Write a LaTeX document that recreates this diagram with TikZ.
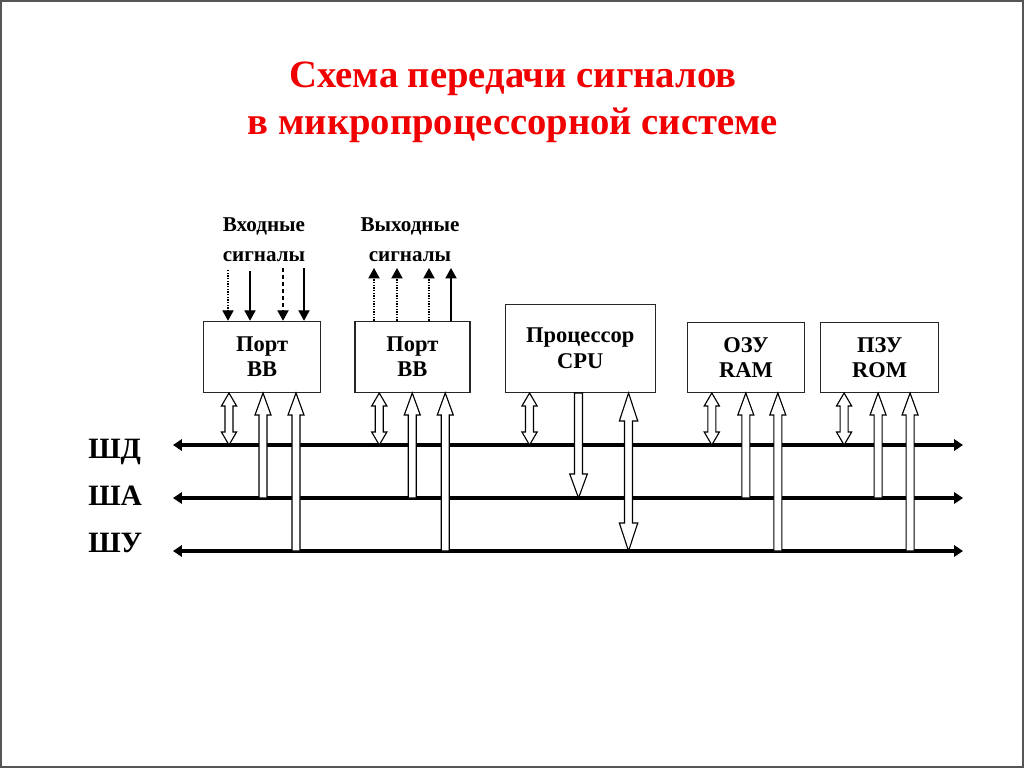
\documentclass[tikz,border=0pt]{standalone}
\usepackage{fontspec}
\setmainfont{Liberation Serif}
\usepackage{tikz}
\usepackage{xcolor}
\usetikzlibrary{arrows.meta,positioning,calc}
\definecolor{TitleRed}{HTML}{F00000}
\definecolor{FrameGray}{HTML}{555555}
\tikzstyle{TitleNode} =[text=TitleRed,align=center,inner sep=0pt,font=\bfseries\fontsize{27.5}{33.4}\selectfont]
\tikzstyle{ModuleBox} =[draw=black!85,line width=0.9pt,fill=white,align=center,inner sep=0pt,font=\bfseries\fontsize{16}{18}\selectfont]
\tikzstyle{BusLabel} =[inner sep=0pt,anchor=base west,font=\bfseries\fontsize{21}{24}\selectfont]
\tikzstyle{SignalLabel} =[inner sep=0pt,align=center,font=\bfseries\fontsize{15}{21.5}\selectfont]
\tikzstyle{BusLine} =[line width=2.2pt,{Triangle[length=2.2mm,width=2.8mm]}-{Triangle[length=2.2mm,width=2.8mm]}]
\tikzstyle{SignalArrow} =[line width=0.9pt,-{Triangle[length=2.6mm,width=2.8mm]}]
\tikzstyle{BusArrow} =[draw=black,line width=0.8pt,fill=white,line join=miter]
\newcommand{\CreateUpArrow}[3]{
    \draw[BusArrow] let \p{box_point}=($(#1.south west)+(#2,0)$),
        \p{bus_point}=(#3)
        in (\x{box_point}-1mm,\y{bus_point}) -- (\x{box_point}-1mm,\y{box_point}-5.5mm) -- (\x{box_point}-2mm,\y{box_point}-5.5mm)
        -- (\x{box_point},\y{box_point}) -- (\x{box_point}+2mm,\y{box_point}-5.5mm) -- (\x{box_point}+1mm,\y{box_point}-5.5mm)
        -- (\x{box_point}+1mm,\y{bus_point}) -- cycle;}
\newcommand{\CreateDownArrow}[3]{
    \draw[BusArrow] let \p{box_point}=($(#1.south west)+(#2,0)$),
        \p{bus_point}=(#3)
        in (\x{box_point}-1mm,\y{box_point}) -- (\x{box_point}-1mm,\y{bus_point}+6mm) -- (\x{box_point}-2.2mm,\y{bus_point}+6mm)
        -- (\x{box_point},\y{bus_point}) -- (\x{box_point}+2.2mm,\y{bus_point}+6mm) -- (\x{box_point}+1mm,\y{bus_point}+6mm)
        -- (\x{box_point}+1mm,\y{box_point}) -- cycle;}
\newcommand{\CreateDoubleArrow}[5]{
    \draw[BusArrow] let \p{box_point}=($(#1.south west)+(#2,0)$),
        \p{bus_point}=(#3)
        in (\x{box_point}-1mm,\y{box_point}-#4) -- (\x{box_point}-#5,\y{box_point}-#4) -- (\x{box_point},\y{box_point})
        -- (\x{box_point}+#5,\y{box_point}-#4) -- (\x{box_point}+1mm,\y{box_point}-#4)
        -- (\x{box_point}+1mm,\y{bus_point}+#4) -- (\x{box_point}+#5,\y{bus_point}+#4) -- (\x{box_point},\y{bus_point})
        -- (\x{box_point}-#5,\y{bus_point}+#4) -- (\x{box_point}-1mm,\y{bus_point}+#4) -- cycle;}

\begin{document}
\begin{tikzpicture}[x=0.25mm,y=-0.25mm]
    \useasboundingbox (0,0) rectangle (1024,768);
    \draw[FrameGray,line width=0.8pt] (1,1) rectangle (1023,767);

    \node[TitleNode](Slide-Title) at (513,102){Схема передачи сигналов\\в микропроцессорной системе};

    \node[ModuleBox,minimum width=29.25mm,minimum height=17.75mm,anchor=south west](Input-Port) at (203,393){Порт\\ВВ};
    \node[ModuleBox,minimum width=28.75mm,minimum height=17.75mm,right=8.25mm of Input-Port.south east,anchor=south west](Output-Port){Порт\\ВВ};
    \node[ModuleBox,minimum width=37.5mm,minimum height=22mm,right=8.5mm of Output-Port.south east,anchor=south west](Processor-CPU){Процессор\\CPU};
    \node[ModuleBox,minimum width=29.25mm,minimum height=17.5mm,right=7.75mm of Processor-CPU.south east,anchor=south west](RAM-Memory){ОЗУ\\RAM};
    \node[ModuleBox,minimum width=29.5mm,minimum height=17.5mm,right=3.75mm of RAM-Memory.south east,anchor=south west](ROM-Memory){ПЗУ\\ROM};

    \node[SignalLabel](Input-Signals-Label) at (264,240){Входные\\сигналы};
    \node[SignalLabel](Output-Signals-Label) at (410,240){Выходные\\сигналы};

    % input and output signal lines
    \coordinate (Input-Signal-1) at (228,270);
    \coordinate (Input-Signal-2) at (250,271);
    \coordinate (Input-Signal-3) at (283,268);
    \coordinate (Input-Signal-4) at (304,268);
    \draw[SignalArrow,densely dotted] (Input-Signal-1) -- (Input-Signal-1 |- Input-Port.north);
    \draw[SignalArrow] (Input-Signal-2) -- (Input-Signal-2 |- Input-Port.north);
    \draw[SignalArrow,densely dashed] (Input-Signal-3) -- (Input-Signal-3 |- Input-Port.north);
    \draw[SignalArrow] (Input-Signal-4) -- (Input-Signal-4 |- Input-Port.north);
    \coordinate (Output-Signal-1) at (374,268);
    \coordinate (Output-Signal-2) at (397,268);
    \coordinate (Output-Signal-3) at (429,268);
    \coordinate (Output-Signal-4) at (451,268);
    \draw[SignalArrow,densely dotted] (Output-Signal-1 |- Output-Port.north) -- (Output-Signal-1);
    \draw[SignalArrow,densely dotted] (Output-Signal-2 |- Output-Port.north) -- (Output-Signal-2);
    \draw[SignalArrow,densely dotted] (Output-Signal-3 |- Output-Port.north) -- (Output-Signal-3);
    \draw[SignalArrow] (Output-Signal-4 |- Output-Port.north) -- (Output-Signal-4);

    % buses
    \node[BusLabel](Data-Bus-Label) at (88,458){ШД};
    \node[BusLabel](Address-Bus-Label) at (88,505){ША};
    \node[BusLabel](Control-Bus-Label) at (88,552){ШУ};
    \coordinate (Data-Bus-West) at (173,445);
    \coordinate (Data-Bus-East) at (963,445);
    \coordinate (Address-Bus-West) at (173,498);
    \coordinate (Address-Bus-East) at (963,498);
    \coordinate (Control-Bus-West) at (173,551);
    \coordinate (Control-Bus-East) at (963,551);
    \draw[BusLine] (Data-Bus-West) -- (Data-Bus-East);
    \draw[BusLine] (Address-Bus-West) -- (Address-Bus-East);
    \draw[BusLine] (Control-Bus-West) -- (Control-Bus-East);

    \CreateDoubleArrow{Input-Port}{26}{Data-Bus-West}{3.25mm}{1.9mm}
    \CreateUpArrow{Input-Port}{60}{Address-Bus-West}
    \CreateUpArrow{Input-Port}{93}{Control-Bus-West}

    \CreateDoubleArrow{Output-Port}{25}{Data-Bus-West}{3.25mm}{1.9mm}
    \CreateUpArrow{Output-Port}{58}{Address-Bus-West}
    \CreateUpArrow{Output-Port}{91}{Control-Bus-West}

    \CreateDoubleArrow{Processor-CPU}{25}{Data-Bus-West}{3.25mm}{1.9mm}
    \CreateDownArrow{Processor-CPU}{74}{Address-Bus-West}
    \CreateDoubleArrow{Processor-CPU}{124}{Control-Bus-West}{7mm}{2.3mm}

    \CreateDoubleArrow{RAM-Memory}{25}{Data-Bus-West}{3.25mm}{1.9mm}
    \CreateUpArrow{RAM-Memory}{59}{Address-Bus-West}
    \CreateUpArrow{RAM-Memory}{91}{Control-Bus-West}

    \CreateDoubleArrow{ROM-Memory}{24}{Data-Bus-West}{3.25mm}{1.9mm}
    \CreateUpArrow{ROM-Memory}{58}{Address-Bus-West}
    \CreateUpArrow{ROM-Memory}{90}{Control-Bus-West}
\end{tikzpicture}
\end{document}
